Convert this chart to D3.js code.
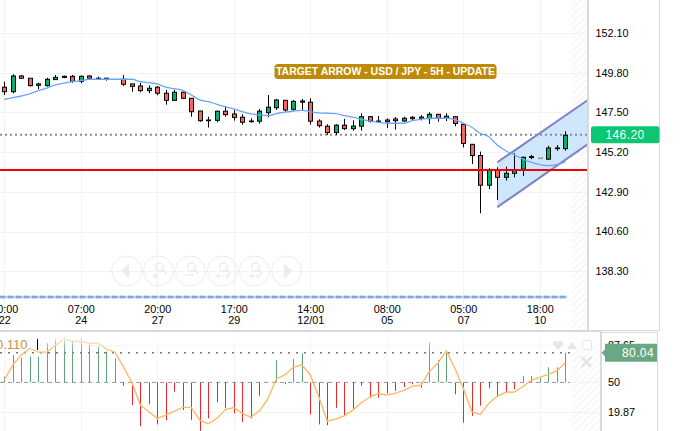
<!DOCTYPE html>
<html><head><meta charset="utf-8">
<script src="https://cdn.jsdelivr.net/npm/d3@7/dist/d3.min.js"></script>
<style>
html,body{margin:0;padding:0;background:#fff;overflow:hidden}
svg{display:block;font-family:"Liberation Sans",Arial,sans-serif}
</style></head><body>
<svg id="c" width="698" height="431"></svg>
<script>
const titleText = "TARGET ARROW - USD / JPY - 5H - UPDATE";
const timeLabels = ["10:00","07:00","20:00","17:00","14:00","08:00","05:00","18:00"];
const dateLabels = ["22","24","27","29","12/01","05","07","10"];
const tickIndexes = [0,9,18,27,36,45,54,63];
const priceTicks = [152.10,149.80,147.50,145.20,142.90,140.60,138.30];
const oscTicks = [87.65,50,19.87];
const lastPrice = 146.20, lastOsc = 80.04, supportLevel = 144.17, lowerDashLevel = 136.81, oscUpper = 80;

const opens = [148.96,148.70,149.61,149.48,149.15,149.05,149.40,149.59,149.59,149.30,149.61,149.48,149.48,null,149.42,149.15,149.03,148.76,148.96,148.61,148.20,148.67,148.32,147.58,147.06,147.04,147.57,147.41,147.22,147.00,146.99,147.48,147.77,148.20,147.68,148.16,148.09,147.00,146.70,146.33,146.76,146.56,146.70,147.25,147.00,147.06,147.12,147.00,147.22,147.23,147.14,147.39,147.16,147.25,146.81,145.65,145.00,143.28,144.17,143.74,143.97,144.21,144.94,144.86,144.79,145.44,145.40];
const closes = [148.70,149.61,149.48,149.05,149.07,149.42,149.53,149.53,149.30,149.59,149.48,149.45,149.44,null,149.13,149.01,148.76,148.90,148.61,148.20,148.67,148.32,147.54,147.02,147.02,147.57,147.37,147.21,146.93,146.96,147.57,147.80,148.22,147.64,148.14,148.09,146.99,146.73,146.33,146.76,146.56,146.71,147.25,146.99,146.96,146.96,147.02,147.16,147.14,147.16,147.39,147.16,147.28,146.86,145.70,145.00,143.28,144.17,143.74,143.97,144.17,144.90,144.88,144.82,145.44,145.40,146.18];
const highs = [149.28,149.71,149.67,149.48,149.22,149.51,149.67,149.63,149.67,149.65,149.65,149.57,149.48,null,149.67,149.15,149.22,149.07,149.03,148.80,148.80,148.70,148.32,147.58,147.25,147.60,147.83,147.64,147.39,147.16,147.70,148.51,148.28,148.22,148.22,148.28,148.32,147.10,146.81,146.81,147.12,147.04,147.45,147.29,147.29,147.16,147.23,147.25,147.28,147.35,147.51,147.41,147.45,147.28,146.86,145.67,145.23,144.27,144.32,144.36,145.13,144.94,145.04,144.86,145.56,145.61,146.41];
const lows = [148.51,148.61,149.44,149.00,148.84,149.00,149.38,149.48,149.22,149.19,149.42,149.42,149.34,null,149.03,148.70,148.67,148.61,148.49,147.95,148.16,148.28,147.25,146.96,146.62,146.93,147.25,147.02,146.79,146.91,146.85,147.22,147.64,147.54,147.57,147.60,146.79,146.62,146.19,146.19,146.48,146.44,146.44,146.91,146.93,146.60,146.50,146.96,147.00,147.04,146.83,146.96,147.00,146.70,145.47,144.51,141.66,143.05,142.43,143.55,143.74,143.82,144.79,144.82,144.76,145.28,145.28];
const maValues = [148.26,148.35,148.45,148.57,148.76,148.91,149.09,149.19,149.28,149.34,149.42,149.42,149.42,149.42,149.42,149.42,149.28,149.22,149.15,148.96,148.87,148.78,148.51,148.22,148.12,147.97,147.83,147.70,147.54,147.41,147.35,147.31,147.43,147.51,147.58,147.62,147.54,147.47,147.45,147.43,147.31,147.22,147.10,147.00,146.93,146.87,146.87,146.87,147.02,147.10,147.16,147.16,147.16,147.08,146.87,146.64,146.29,146.09,145.61,145.28,145.04,144.79,144.61,144.47,144.42,144.47,144.65];
const oscBars = [55.8,77.8,74.8,76.1,76.1,89.7,94.1,96.4,93,94.8,88,86.2,81.2,74.5,46.7,27.1,5.7,27.8,7.5,11.8,40.6,22,11.8,1,13.6,29.8,23.7,18.6,10.1,13.6,36.5,50,72.7,48.1,73.8,79.5,17.6,7.5,6.8,24.3,16.2,22,46.7,34.5,34.5,39,41.3,45.3,48.1,44.6,90.7,72.7,81.2,37.9,9.3,16.2,26.4,44,36.2,40,43,56.5,56.5,54.2,65.3,65.3,80.04];
const oscLine = [52.4,67.7,77.8,84.6,80.6,80.6,87.3,94.1,91.3,91.3,89.7,89.7,83.9,80.6,65.9,50.1,27.1,20.3,13.6,16.9,21,24.7,24.7,11.8,8.1,13.6,22.3,24.7,18.6,14.9,21,33.2,53.5,57.5,65.3,67.7,57.5,35.5,10.8,12.9,16.2,22,29.4,35.2,38.9,37.2,39.2,42,46,47.1,60.9,69.4,81.9,64.3,44,20.3,17.6,28.8,36.2,40,40.3,45.6,52.4,55.1,58.2,61.6,70];
// channel: [bar index, price]
const channelUpper = [[58,144.61],[68.67,148.22]];
const channelLower = [[58,142.01],[68.67,145.67]];

const W=698,H=431, plotR=587, subR=600, splitY=330;
const svg=d3.select("#c");
const x=d3.scaleLinear().domain([0,66]).range([4.3,565.3]);
const y=d3.scaleLinear().domain([152.10,138.30]).range([33,271.2]);
const yo=d3.scaleLinear().domain([50,80.04]).range([382.4,352.7]);
const indexes=d3.range(opens.length);
const defs=svg.append("defs");
const pat=defs.append("pattern").attr("id","hatch").attr("width",5).attr("height",5).attr("patternUnits","userSpaceOnUse").attr("patternTransform","rotate(-45)");
pat.append("rect").attr("width",5).attr("height",2).attr("fill","#f7f7f7");
defs.append("clipPath").attr("id","mainClip").append("rect").attr("width",plotR).attr("height",splitY);
defs.append("clipPath").attr("id","subClip").append("rect").attr("y",332).attr("width",subR).attr("height",H-332);
const grad=defs.append("linearGradient").attr("id","fade").attr("x1",0).attr("x2",0).attr("y1",0).attr("y2",1);
grad.append("stop").attr("offset",0).attr("stop-color","#fff").attr("stop-opacity",.95);
grad.append("stop").attr("offset",1).attr("stop-color","#fff").attr("stop-opacity",0.05);

// hatch
svg.append("rect").attr("x",572).attr("y",0).attr("width",plotR-572).attr("height",splitY).attr("fill","url(#hatch)");
svg.append("rect").attr("x",572).attr("y",332).attr("width",subR-572).attr("height",H-332).attr("fill","url(#hatch)");

// grid
const grid="#f3f3f3";
const gMain=svg.append("g").attr("clip-path","url(#mainClip)");
gMain.selectAll(".gh").data(priceTicks).join("line").attr("x1",0).attr("x2",plotR).attr("y1",d=>Math.round(y(d))+.5).attr("y2",d=>Math.round(y(d))+.5).attr("stroke",grid);
gMain.selectAll(".gv").data(tickIndexes).join("line").attr("y1",0).attr("y2",splitY).attr("x1",d=>Math.round(x(d))+.5).attr("x2",d=>Math.round(x(d))+.5).attr("stroke",grid);
const gSub=svg.append("g").attr("clip-path","url(#subClip)");
gSub.selectAll(".gh").data(oscTicks).join("line").attr("x1",0).attr("x2",subR).attr("y1",d=>Math.round(yo(d))+.5).attr("y2",d=>Math.round(yo(d))+.5).attr("stroke",grid);
gSub.selectAll(".gv").data(tickIndexes).join("line").attr("y1",332).attr("y2",H).attr("x1",d=>Math.round(x(d))+.5).attr("x2",d=>Math.round(x(d))+.5).attr("stroke",grid);

// channel
gMain.append("path").attr("d",d3.line()([...channelUpper,...channelLower.slice().reverse()].map(d=>[x(d[0]),y(d[1])]))+"Z").attr("fill","#cfe7fc");
[channelUpper,channelLower].forEach(c=>gMain.append("path").attr("d",d3.line()(c.map(d=>[x(d[0]),y(d[1])]))).attr("stroke","#7f80c4").attr("stroke-width",2).attr("fill","none"));

// last price dotted, support line, lower dashed
gMain.append("line").attr("x1",0).attr("x2",plotR).attr("y1",y(lastPrice)).attr("y2",y(lastPrice)).attr("stroke","#8c8c8c").attr("stroke-width",2).attr("stroke-dasharray","2 3");
gMain.append("line").attr("x1",0).attr("x2",567).attr("y1",y(lowerDashLevel)).attr("y2",y(lowerDashLevel)).attr("stroke","#b4c9ec").attr("stroke-width",2.5);
gMain.append("line").attr("x1",0).attr("x2",567).attr("y1",y(lowerDashLevel)).attr("y2",y(lowerDashLevel)).attr("stroke","#7ea6e6").attr("stroke-width",2.5).attr("stroke-dasharray","5 3");

// candles
const cg=gMain.append("g");
const valid=indexes.filter(i=>opens[i]!==null);
cg.selectAll(".w").data(valid).join("line").attr("x1",i=>Math.round(x(i))+.5).attr("x2",i=>Math.round(x(i))+.5).attr("y1",i=>y(highs[i])).attr("y2",i=>y(lows[i])).attr("stroke",i=>i===63?"#999":"#000").attr("stroke-width",1);
cg.selectAll(".b").data(valid).join("rect")
 .attr("x",i=>Math.round(x(i))-1.5).attr("width",4)
 .attr("y",i=>y(Math.max(opens[i],closes[i])))
 .attr("height",i=>Math.max(.6,Math.abs(y(opens[i])-y(closes[i]))))
 .attr("fill",i=>closes[i]>opens[i]?"#00b26f":"#f7665e")
 .attr("stroke",i=>i===63?"#999":"#000").attr("stroke-width",1);
gMain.append("path").attr("d",d3.line().x((d,i)=>x(i)).y(d=>y(d)).curve(d3.curveMonotoneX)(maValues)).attr("fill","none").attr("stroke","#6aa6f5").attr("stroke-width",1.3);
gMain.append("line").attr("x1",0).attr("x2",plotR).attr("y1",y(supportLevel)).attr("y2",y(supportLevel)).attr("stroke","#f00000").attr("stroke-width",2);

// title
svg.append("rect").attr("x",274.5).attr("y",64).attr("width",222).attr("height",15).attr("rx",3.5).attr("fill","#bf8a05");
svg.append("text").attr("x",385.5).attr("y",75.4).attr("text-anchor","middle").attr("fill","#fff").attr("font-weight","bold").attr("font-size",10.5).attr("textLength",219).attr("lengthAdjust","spacing").text(titleText);

// nav buttons
const navX=[126.7,158.5,190.4,222.4,254.4,286.6], navY=271;
const ng=svg.append("g").attr("fill","none").attr("stroke","#ececec");
navX.forEach(cx=>ng.append("circle").attr("cx",cx).attr("cy",navY).attr("r",15));
ng.append("path").attr("d",`M${navX[0]-5} ${navY}l7 -7v14z`).attr("fill","#ececec");
ng.append("path").attr("d",`M${navX[5]+5} ${navY}l-7 -7v14z`).attr("fill","#ececec");
[1,2,3,4].forEach(k=>{const c=navX[k];
 ng.append("circle").attr("cx",c+1).attr("cy",navY-4).attr("r",4).attr("stroke-width",1.4);
 ng.append("path").attr("d",`M${c+4} ${navY-1}l4 4`).attr("stroke-width",1.6);
});
ng.append("path").attr("d",`M${navX[1]-6} ${navY+5}h6M${navX[1]-3} ${navY+2}v6`).attr("stroke-width",1.5);
ng.append("path").attr("d",`M${navX[2]-5} ${navY+4}h9`).attr("stroke-width",1.5);
ng.append("path").attr("d",`M${navX[3]-6} ${navY+5}h13M${navX[3]-6} ${navY+5}l3 -2M${navX[3]-6} ${navY+5}l3 2M${navX[3]+7} ${navY+5}l-3 -2M${navX[3]+7} ${navY+5}l-3 2`).attr("stroke-width",1.2);
ng.append("path").attr("d",`M${navX[4]-6} ${navY+5}h13M${navX[4]-1} ${navY+5}l-3 -2M${navX[4]-1} ${navY+5}l-3 2M${navX[4]+2} ${navY+5}l3 -2M${navX[4]+2} ${navY+5}l3 2`).attr("stroke-width",1.2);

// x axis
function xAxisLayer(fmtArr,top){
 const g=svg.append("g").attr("transform",`translate(0,${top})`).call(d3.axisBottom(x).tickValues(tickIndexes).tickSize(0).tickPadding(0).tickFormat((d,i)=>fmtArr[i]));
 g.select(".domain").remove();
 g.selectAll("text").attr("fill","#000").attr("font-size",10.8).attr("font-family",'"Liberation Sans",Arial,sans-serif');
}
xAxisLayer(timeLabels,305);
xAxisLayer(dateLabels,316);

// price axis
const ya=svg.append("g").attr("transform","translate(595.5,0)").call(d3.axisRight(y).tickValues(priceTicks).tickSize(0).tickPadding(0).tickFormat(d3.format(".2f")));
ya.select(".domain").remove();
ya.selectAll("text").attr("fill","#000").attr("font-size",10.8).attr("font-family",'"Liberation Sans",Arial,sans-serif');

// oscillator
gSub.append("line").attr("x1",0).attr("x2",subR-30).attr("y1",yo(50)).attr("y2",yo(50)).attr("stroke","#999").attr("stroke-dasharray","4 4");
gSub.append("line").attr("x1",0).attr("x2",subR-30).attr("y1",yo(oscUpper)).attr("y2",yo(oscUpper)).attr("stroke","#777").attr("stroke-width",1.5).attr("stroke-dasharray","2 6");
gSub.selectAll(".st").data(indexes).join("line").attr("x1",i=>Math.round(x(i))+.5).attr("x2",i=>Math.round(x(i))+.5).attr("y1",yo(50)).attr("y2",i=>yo(oscBars[i])).attr("stroke",i=>oscBars[i]>=50?"#60a27c":"#e9282c").attr("stroke-width",1);
gSub.append("path").attr("d",d3.line().x((d,i)=>x(i)).y(d=>yo(d))(oscLine)).attr("fill","none").attr("stroke","#fdba66").attr("stroke-width",1.4);
gSub.append("rect").attr("x",0).attr("y",332).attr("width",subR).attr("height",20).attr("fill","url(#fade)");
svg.append("text").attr("x",-4).attr("y",349).attr("fill","#c9933f").attr("font-size",13).text("0.110");
svg.append("rect").attr("x",37).attr("y",339).attr("width",1).attr("height",11).attr("fill","#000");

// icons
const ic=svg.append("g").attr("fill","#e6e6e6");
ic.append("path").attr("d","M553 344h10l-5 6z");
ic.append("circle").attr("cx",555.5).attr("cy",343.5).attr("r",2.6);
ic.append("circle").attr("cx",560.5).attr("cy",343.5).attr("r",2.6);
ic.append("path").attr("d","M567 349l5 -7l5 7z");
ic.append("rect").attr("x",582.5).attr("y",340.5).attr("width",9).attr("height",9).attr("rx",1).attr("fill","#fff").attr("stroke","#e6e6e6");
ic.append("path").attr("d","M581.5 357l10 10M591.5 357l-10 10").attr("stroke","#e6e6e6").attr("stroke-width",3).attr("fill","none");

// frames
const fr=svg.append("g");
fr.append("rect").attr("x",587).attr("y",0).attr("width",2).attr("height",332).attr("fill","#d9d9d9");
fr.append("rect").attr("x",0).attr("y",330).attr("width",601).attr("height",2).attr("fill","#d9d9d9");
fr.append("rect").attr("x",600).attr("y",331).attr("width",2).attr("height",100).attr("fill","#d9d9d9");
fr.append("rect").attr("x",589).attr("y",330).attr("width",71).attr("height",1).attr("fill","#d9d9d9");
fr.append("rect").attr("x",659).attr("y",0).attr("width",1).attr("height",331).attr("fill","#d9d9d9");
fr.append("rect").attr("x",602).attr("y",332).attr("width",56).attr("height",1).attr("fill","#d9d9d9");
fr.append("rect").attr("x",657).attr("y",332).attr("width",1).attr("height",99).attr("fill","#d9d9d9");

// osc axis
const oa=svg.append("g").attr("transform","translate(608,0)").call(d3.axisRight(yo).tickValues(oscTicks).tickSize(0).tickPadding(0).tickFormat(d=>d===50?"50":d3.format(".2f")(d)));
oa.select(".domain").remove();
oa.selectAll("text").attr("fill","#000").attr("font-size",10.8).attr("font-family",'"Liberation Sans",Arial,sans-serif');

// last labels
svg.append("rect").attr("x",591).attr("y",y(lastPrice)-8.5).attr("width",68.5).attr("height",17).attr("rx",2.5).attr("fill","#0cc673");
svg.append("text").attr("x",625).attr("y",y(lastPrice)+4.3).attr("text-anchor","middle").attr("fill","#fff").attr("font-size",12).attr("letter-spacing",.4).text(d3.format(".2f")(lastPrice));
svg.append("path").attr("d",`M601.5 ${yo(lastOsc)}l3.5 -3.5v-5.5h52v18h-52v-5.5z`).attr("fill","#6aa882");
svg.append("text").attr("x",638).attr("y",yo(lastOsc)+4.3).attr("text-anchor","middle").attr("fill","#fff").attr("font-size",12).attr("letter-spacing",.4).text(d3.format(".2f")(lastOsc));
</script>
</body></html>
